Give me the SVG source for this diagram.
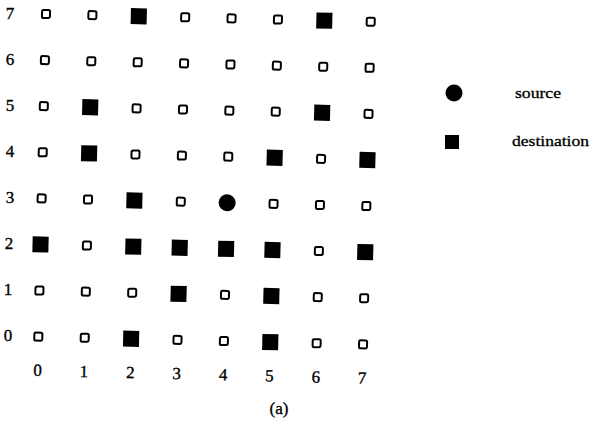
<svg xmlns="http://www.w3.org/2000/svg" xmlns:xlink="http://www.w3.org/1999/xlink" width="590" height="432" viewBox="0 0 590 432">
<style>
.t{font-family:"Liberation Serif","Times New Roman",serif;font-size:17px;fill:#000;stroke:#000;stroke-width:0.35;text-anchor:middle}
.l{font-family:"Liberation Serif","Times New Roman",serif;font-size:15px;fill:#000;stroke:#000;stroke-width:0.3}
.o{fill:#fff;stroke:#000;stroke-width:2}
.f{fill:#000}
</style>
<defs>
<rect id="os" class="o" x="-4" y="-4" width="8" height="8" rx="1.5"/>
<rect id="fs" class="f" x="-8" y="-8" width="16" height="16"/>
<circle id="sc" class="f" r="8.5"/>
</defs>
<rect width="590" height="432" fill="#fff"/>
<g id="row-labels">
<text class="t" x="10" y="19">7</text>
<text class="t" x="10" y="65">6</text>
<text class="t" x="10" y="111">5</text>
<text class="t" x="10" y="157">4</text>
<text class="t" x="10" y="203">3</text>
<text class="t" x="9" y="249">2</text>
<text class="t" x="8" y="295">1</text>
<text class="t" x="8" y="341">0</text>
</g>
<g id="grid" transform="rotate(1.36 46 14)">
<g id="col-labels">
<text class="t" x="46" y="376">0</text>
<text class="t" x="92.4" y="376">1</text>
<text class="t" x="138.8" y="376">2</text>
<text class="t" x="185.2" y="376">3</text>
<text class="t" x="231.6" y="376">4</text>
<text class="t" x="278" y="376">5</text>
<text class="t" x="324.4" y="376">6</text>
<text class="t" x="370.8" y="376">7</text>
</g>
<g id="connectors"></g>
<g id="n-0-7"><use xlink:href="#os" x="46" y="14"/></g>
<g id="n-1-7"><use xlink:href="#os" x="92.4" y="14"/></g>
<g id="n-2-7"><use xlink:href="#fs" x="138.8" y="14"/></g>
<g id="n-3-7"><use xlink:href="#os" x="185.2" y="14"/></g>
<g id="n-4-7"><use xlink:href="#os" x="231.6" y="14"/></g>
<g id="n-5-7"><use xlink:href="#os" x="278" y="14"/></g>
<g id="n-6-7"><use xlink:href="#fs" x="324.4" y="14"/></g>
<g id="n-7-7"><use xlink:href="#os" x="370.8" y="14"/></g>
<g id="n-0-6"><use xlink:href="#os" x="46" y="60.1"/></g>
<g id="n-1-6"><use xlink:href="#os" x="92.4" y="60.1"/></g>
<g id="n-2-6"><use xlink:href="#os" x="138.8" y="60.1"/></g>
<g id="n-3-6"><use xlink:href="#os" x="185.2" y="60.1"/></g>
<g id="n-4-6"><use xlink:href="#os" x="231.6" y="60.1"/></g>
<g id="n-5-6"><use xlink:href="#os" x="278" y="60.1"/></g>
<g id="n-6-6"><use xlink:href="#os" x="324.4" y="60.1"/></g>
<g id="n-7-6"><use xlink:href="#os" x="370.8" y="60.1"/></g>
<g id="n-0-5"><use xlink:href="#os" x="46" y="106.2"/></g>
<g id="n-1-5"><use xlink:href="#fs" x="92.4" y="106.2"/></g>
<g id="n-2-5"><use xlink:href="#os" x="138.8" y="106.2"/></g>
<g id="n-3-5"><use xlink:href="#os" x="185.2" y="106.2"/></g>
<g id="n-4-5"><use xlink:href="#os" x="231.6" y="106.2"/></g>
<g id="n-5-5"><use xlink:href="#os" x="278" y="106.2"/></g>
<g id="n-6-5"><use xlink:href="#fs" x="324.4" y="106.2"/></g>
<g id="n-7-5"><use xlink:href="#os" x="370.8" y="106.2"/></g>
<g id="n-0-4"><use xlink:href="#os" x="46" y="152.3"/></g>
<g id="n-1-4"><use xlink:href="#fs" x="92.4" y="152.3"/></g>
<g id="n-2-4"><use xlink:href="#os" x="138.8" y="152.3"/></g>
<g id="n-3-4"><use xlink:href="#os" x="185.2" y="152.3"/></g>
<g id="n-4-4"><use xlink:href="#os" x="231.6" y="152.3"/></g>
<g id="n-5-4"><use xlink:href="#fs" x="278" y="152.3"/></g>
<g id="n-6-4"><use xlink:href="#os" x="324.4" y="152.3"/></g>
<g id="n-7-4"><use xlink:href="#fs" x="370.8" y="152.3"/></g>
<g id="n-0-3"><use xlink:href="#os" x="46" y="198.4"/></g>
<g id="n-1-3"><use xlink:href="#os" x="92.4" y="198.4"/></g>
<g id="n-2-3"><use xlink:href="#fs" x="138.8" y="198.4"/></g>
<g id="n-3-3"><use xlink:href="#os" x="185.2" y="198.4"/></g>
<g id="n-4-3"><use xlink:href="#sc" x="231.6" y="198.4"/></g>
<g id="n-5-3"><use xlink:href="#os" x="278" y="198.4"/></g>
<g id="n-6-3"><use xlink:href="#os" x="324.4" y="198.4"/></g>
<g id="n-7-3"><use xlink:href="#os" x="370.8" y="198.4"/></g>
<g id="n-0-2"><use xlink:href="#fs" x="46" y="244.5"/></g>
<g id="n-1-2"><use xlink:href="#os" x="92.4" y="244.5"/></g>
<g id="n-2-2"><use xlink:href="#fs" x="138.8" y="244.5"/></g>
<g id="n-3-2"><use xlink:href="#fs" x="185.2" y="244.5"/></g>
<g id="n-4-2"><use xlink:href="#fs" x="231.6" y="244.5"/></g>
<g id="n-5-2"><use xlink:href="#fs" x="278" y="244.5"/></g>
<g id="n-6-2"><use xlink:href="#os" x="324.4" y="244.5"/></g>
<g id="n-7-2"><use xlink:href="#fs" x="370.8" y="244.5"/></g>
<g id="n-0-1"><use xlink:href="#os" x="46" y="290.6"/></g>
<g id="n-1-1"><use xlink:href="#os" x="92.4" y="290.6"/></g>
<g id="n-2-1"><use xlink:href="#os" x="138.8" y="290.6"/></g>
<g id="n-3-1"><use xlink:href="#fs" x="185.2" y="290.6"/></g>
<g id="n-4-1"><use xlink:href="#os" x="231.6" y="290.6"/></g>
<g id="n-5-1"><use xlink:href="#fs" x="278" y="290.6"/></g>
<g id="n-6-1"><use xlink:href="#os" x="324.4" y="290.6"/></g>
<g id="n-7-1"><use xlink:href="#os" x="370.8" y="290.6"/></g>
<g id="n-0-0"><use xlink:href="#os" x="46" y="336.7"/></g>
<g id="n-1-0"><use xlink:href="#os" x="92.4" y="336.7"/></g>
<g id="n-2-0"><use xlink:href="#fs" x="138.8" y="336.7"/></g>
<g id="n-3-0"><use xlink:href="#os" x="185.2" y="336.7"/></g>
<g id="n-4-0"><use xlink:href="#os" x="231.6" y="336.7"/></g>
<g id="n-5-0"><use xlink:href="#fs" x="278" y="336.7"/></g>
<g id="n-6-0"><use xlink:href="#os" x="324.4" y="336.7"/></g>
<g id="n-7-0"><use xlink:href="#os" x="370.8" y="336.7"/></g>
</g>
<g id="legend-source"><use xlink:href="#sc" x="454" y="93"/><text class="l" x="515" y="98" textLength="46" lengthAdjust="spacingAndGlyphs">source</text></g>
<g id="legend-destination"><rect class="f" x="445" y="135" width="14" height="14"/><text class="l" x="512" y="146" textLength="77" lengthAdjust="spacingAndGlyphs">destination</text></g>
<text id="caption" class="t" x="279" y="414">(a)</text>
</svg>
